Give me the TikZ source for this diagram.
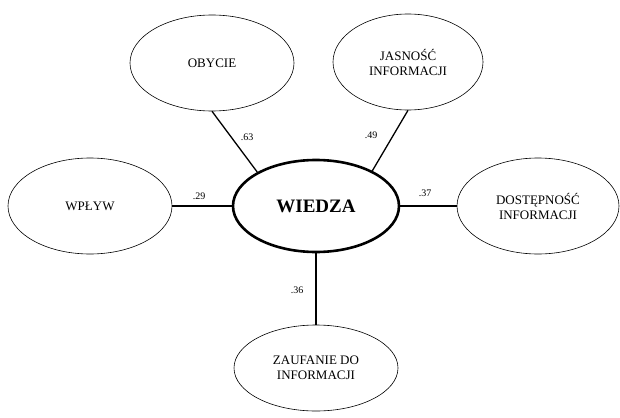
\documentclass[tikz,border=0pt]{standalone}
\usepackage{fontspec}
\setmainfont{Liberation Serif}
\usetikzlibrary{shapes.geometric}
\tikzset{
  factor/.style={ellipse, draw, line width=0.6pt, inner sep=0pt, minimum width=164pt, minimum height=96pt, align=center, font=\fontsize{13}{15}\selectfont},
  core/.style={ellipse, draw, line width=2.6pt, inner sep=0pt, minimum width=166pt, minimum height=92pt, font=\fontsize{19}{22}\selectfont\bfseries},
  link/.style={line width=1.3pt},
  coef/.style={font=\fontsize{10}{11}\selectfont, inner sep=1pt}
}
\begin{document}
\begin{tikzpicture}[x=1pt,y=-1pt]
\useasboundingbox (0,0) rectangle (620,417);
\node[core] (wiedza) at (316,206) {WIEDZA};
\node[factor] (obycie) at (212,63) {OBYCIE};
\node[factor, minimum width=150pt] (jasnosc) at (408,62) {JASNOŚĆ\\INFORMACJI};
\node[factor] (wplyw) at (90,206) {WPŁYW};
\node[factor, minimum width=162pt] (dostep) at (538,206) {DOSTĘPNOŚĆ\\INFORMACJI};
\node[factor, minimum height=86pt] (zaufanie) at (316,368) {ZAUFANIE DO\\INFORMACJI};
\draw[link] (obycie.south) -- (wiedza.150);
\draw[link] (jasnosc.south) -- (wiedza.32);
\draw[link] (wplyw.east) -- (wiedza.west);
\draw[link] (wiedza.east) -- (dostep.west);
\draw[link] (wiedza.south) -- (zaufanie.north);
\node[coef] (c63) at (247,137) {.63};
\node[coef] (c49) at (371,135) {.49};
\node[coef] (c29) at (199,196) {.29};
\node[coef] (c37) at (425,193) {.37};
\node[coef] (c36) at (297,290) {.36};
\end{tikzpicture}
\end{document}
